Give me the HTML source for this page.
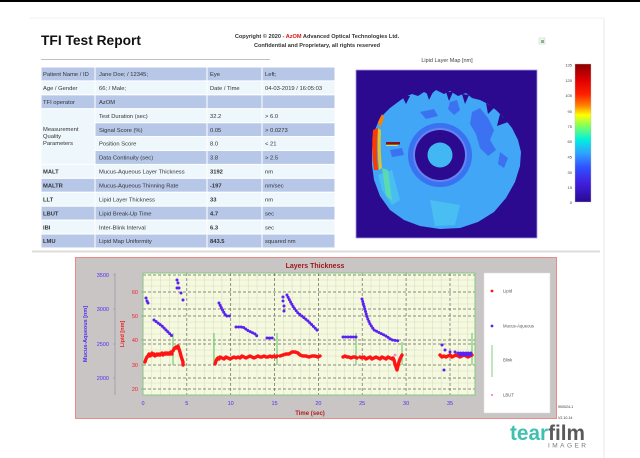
<!DOCTYPE html>
<html><head><meta charset="utf-8"><style>
html,body{margin:0;padding:0;background:#fff;width:640px;height:458px;overflow:hidden}
svg{display:block}
text{font-family:"Liberation Sans",Arial,sans-serif}
</style></head><body>
<svg width="640" height="458" viewBox="0 0 640 458" xmlns="http://www.w3.org/2000/svg">
<defs>
<linearGradient id="jet" x1="0" y1="0" x2="0" y2="1">
<stop offset="0" stop-color="#8b0000"/>
<stop offset="0.12" stop-color="#e00000"/>
<stop offset="0.22" stop-color="#ff2000"/>
<stop offset="0.30" stop-color="#ff8000"/>
<stop offset="0.37" stop-color="#ffff00"/>
<stop offset="0.45" stop-color="#80ff60"/>
<stop offset="0.55" stop-color="#00f0e0"/>
<stop offset="0.65" stop-color="#30a0ff"/>
<stop offset="0.75" stop-color="#3050ff"/>
<stop offset="0.86" stop-color="#4020e0"/>
<stop offset="1" stop-color="#2a0890"/>
</linearGradient>
</defs>
<rect x="0" y="0" width="640" height="2" fill="#000"/>
<line x1="604" y1="18" x2="604" y2="458" stroke="#e8e8e8" stroke-width="1"/>
<line x1="30" y1="18" x2="604" y2="18" stroke="#f2f2f2" stroke-width="1"/>

<!-- header -->
<text x="41" y="45" font-size="13.5" font-weight="bold" fill="#111" textLength="100" lengthAdjust="spacingAndGlyphs">TFI Test Report</text>
<text x="317" y="38" font-size="5.6" font-weight="bold" fill="#333" text-anchor="middle">Copyright © 2020 - <tspan fill="#e01010">AzOM</tspan> Advanced Optical Technologies Ltd.</text>
<text x="317" y="47" font-size="5.6" font-weight="bold" fill="#333" text-anchor="middle">Confidential and Proprietary, all rights reserved</text>
<rect x="539" y="38" width="6" height="6" fill="#f4f4f4" stroke="#ccc" stroke-width="0.5"/>
<rect x="541" y="40" width="3" height="3" fill="#7cbf7c"/>
<line x1="41" y1="59.5" x2="270" y2="59.5" stroke="#c0c0c0" stroke-width="1"/>

<!-- table -->
<g stroke="#fff" stroke-width="1">
<rect x="41" y="67" width="294" height="13.92" fill="#b7c7e8"/>
<rect x="41" y="80.92" width="294" height="13.92" fill="#eef7fc"/>
<rect x="41" y="94.84" width="294" height="13.92" fill="#b7c7e8"/>
<rect x="41" y="108.76" width="294" height="55.68" fill="#eef7fc"/>
<rect x="95" y="122.68" width="240" height="13.92" fill="#b7c7e8"/>
<rect x="95" y="150.52" width="240" height="13.92" fill="#b7c7e8"/>
<rect x="41" y="164.44" width="294" height="13.92" fill="#eef7fc"/>
<rect x="41" y="178.36" width="294" height="13.92" fill="#b7c7e8"/>
<rect x="41" y="192.28" width="294" height="13.92" fill="#eef7fc"/>
<rect x="41" y="206.2" width="294" height="13.92" fill="#b7c7e8"/>
<rect x="41" y="220.12" width="294" height="13.92" fill="#eef7fc"/>
<rect x="41" y="234.04" width="294" height="13.92" fill="#b7c7e8"/>
</g>
<g stroke="#fff" stroke-width="1">
<line x1="95" y1="67" x2="95" y2="248"/>
<line x1="207" y1="67" x2="207" y2="248"/>
<line x1="262" y1="67" x2="262" y2="248"/>
<line x1="95" y1="122.68" x2="335" y2="122.68"/>
<line x1="95" y1="136.6" x2="335" y2="136.6"/>
<line x1="95" y1="150.52" x2="335" y2="150.52"/>
</g>
<g font-size="5.8" fill="#333">
<text x="43" y="76.2">Patient Name / ID</text><text x="99" y="76.2">Jane Doe; / 12345;</text><text x="210" y="76.2">Eye</text><text x="265" y="76.2">Left;</text>
<text x="43" y="90.1">Age / Gender</text><text x="99" y="90.1">66; / Male;</text><text x="210" y="90.1">Date / Time</text><text x="265" y="90.1">04-03-2019 / 16:05:03</text>
<text x="43" y="104">TFI operator</text><text x="99" y="104">AzOM</text>
<text x="43" y="131">Measurement</text><text x="43" y="138">Quality</text><text x="43" y="145">Parameters</text>
<text x="99" y="117.9">Test Duration (sec)</text><text x="210" y="117.9">32.2</text><text x="265" y="117.9">&gt; 6.0</text>
<text x="99" y="131.8">Signal Score (%)</text><text x="210" y="131.8">0.05</text><text x="265" y="131.8">&gt; 0.0273</text>
<text x="99" y="145.7">Position Score</text><text x="210" y="145.7">8.0</text><text x="265" y="145.7">&lt; 21</text>
<text x="99" y="159.7">Data Continuity (sec)</text><text x="210" y="159.7">3.8</text><text x="265" y="159.7">&gt; 2.5</text>
<text x="43" y="173.6" font-weight="bold">MALT</text><text x="99" y="173.6">Mucus-Aqueous Layer Thickness</text><text x="210" y="173.6" font-weight="bold">3192</text><text x="265" y="173.6">nm</text>
<text x="43" y="187.5" font-weight="bold">MALTR</text><text x="99" y="187.5">Mucus-Aqueous Thinning Rate</text><text x="210" y="187.5" font-weight="bold">-197</text><text x="265" y="187.5">nm/sec</text>
<text x="43" y="201.4" font-weight="bold">LLT</text><text x="99" y="201.4">Lipid Layer Thickness</text><text x="210" y="201.4" font-weight="bold">33</text><text x="265" y="201.4">nm</text>
<text x="43" y="215.4" font-weight="bold">LBUT</text><text x="99" y="215.4">Lipid Break-Up Time</text><text x="210" y="215.4" font-weight="bold">4.7</text><text x="265" y="215.4">sec</text>
<text x="43" y="229.3" font-weight="bold">IBI</text><text x="99" y="229.3">Inter-Blink Interval</text><text x="210" y="229.3" font-weight="bold">6.3</text><text x="265" y="229.3">sec</text>
<text x="43" y="243.2" font-weight="bold">LMU</text><text x="99" y="243.2">Lipid Map Uniformity</text><text x="210" y="243.2" font-weight="bold">843.5</text><text x="265" y="243.2">squared nm</text>
</g>

<!-- map -->
<text x="447" y="62" font-size="5.5" fill="#444" text-anchor="middle">Lipid Layer Map [nm]</text>
<rect x="356" y="70" width="181" height="168" fill="#2b0a8f" stroke="#a898e8" stroke-width="0.8"/>
<polygon fill="#40a6f5" points="372,150 374,132 380,118 390,108 398,102 405,97 412,94 418,96 424,92 430,95 436,90 444,94 450,91 458,96 466,93 472,98 480,100 488,104 496,110 504,118 512,128 518,140 521,152 520,166 515,182 506,198 494,212 478,222 460,228 440,229 420,226 404,220 390,210 380,196 374,180 372,165"/>
<g fill="#2b0a8f">
<polygon points="402,96 406,104 410,96"/>
<polygon points="426,91 429,100 433,92"/>
<polygon points="446,92 449,101 453,92"/>
<polygon points="462,94 465,104 469,95"/>
<polygon points="486,103 488,114 494,108"/>
<polygon points="500,114 497,126 508,122"/>
</g>
<g fill="#3c68f2" opacity="0.85">
<polygon points="472,112 480,108 488,118 494,130 490,140 496,150 488,156 480,148 476,134 470,124"/>
<polygon points="450,102 457,100 460,110 454,115 448,109"/>
<polygon points="500,152 508,158 504,168 498,164"/>
<polygon points="390,150 402,148 404,155 392,157"/>
<polygon points="420,112 434,109 438,116 426,119"/>
</g>
<g fill="#4cc4f2" opacity="0.8">
<polygon points="378,175 392,170 400,200 392,205 382,190"/>
<polygon points="430,200 460,205 455,225 435,226"/>
</g>
<path d="M373,130 Q371,150 374,170 L378,170 Q376,150 378,128 Z" fill="#ff3a00"/>
<path d="M378,122 L382,114 L384,118 L380,128 Z" fill="#ff8000"/>
<path d="M378,128 Q377,150 379,170 L382,168 Q380,150 381,130 Z" fill="#ffd000" opacity="0.8"/>
<path d="M382,168 L386,196 L392,200 L388,170 Z" fill="#60e0a0" opacity="0.8"/>
<rect x="386" y="142" width="14" height="2.5" fill="#8b1010"/>
<rect x="386" y="145" width="12" height="1" fill="#e0e040"/>
<circle cx="440" cy="155" r="32" fill="#3a72f2"/>
<circle cx="440" cy="155" r="27" fill="#6484f0"/>
<circle cx="440" cy="155" r="25" fill="#2b0a8f"/>
<circle cx="440" cy="155" r="12.5" fill="#42b8f2"/>
<rect x="575" y="64" width="16" height="138" fill="url(#jet)" stroke="#bbb" stroke-width="0.4"/>
<g font-size="4" fill="#444" text-anchor="end">
<text x="572" y="66.5">135</text><text x="572" y="82">120</text><text x="572" y="97">105</text><text x="572" y="113">90</text><text x="572" y="128">75</text><text x="572" y="143">60</text><text x="572" y="158.5">45</text><text x="572" y="174">30</text><text x="572" y="189">15</text><text x="572" y="204">0</text>
</g>

<line x1="32" y1="251.5" x2="600" y2="251.5" stroke="#dcdcdc" stroke-width="2"/>

<!-- chart -->
<rect x="75.5" y="257.5" width="481" height="161" fill="#c9c5c5" stroke="#e88a8a" stroke-width="1"/>
<text x="315" y="268" font-size="7" font-weight="bold" fill="#a01818" text-anchor="middle">Layers Thickness</text>
<rect x="143" y="273" width="332" height="122" fill="#f5fadf"/>
<g stroke="#d6d8c4" stroke-width="0.5">
<line x1="151.8" y1="273" x2="151.8" y2="395"/><line x1="160.5" y1="273" x2="160.5" y2="395"/><line x1="169.3" y1="273" x2="169.3" y2="395"/><line x1="178.1" y1="273" x2="178.1" y2="395"/>
<line x1="195.6" y1="273" x2="195.6" y2="395"/><line x1="204.4" y1="273" x2="204.4" y2="395"/><line x1="213.2" y1="273" x2="213.2" y2="395"/><line x1="221.9" y1="273" x2="221.9" y2="395"/>
<line x1="239.5" y1="273" x2="239.5" y2="395"/><line x1="248.2" y1="273" x2="248.2" y2="395"/><line x1="257" y1="273" x2="257" y2="395"/><line x1="265.8" y1="273" x2="265.8" y2="395"/>
<line x1="283.3" y1="273" x2="283.3" y2="395"/><line x1="292.1" y1="273" x2="292.1" y2="395"/><line x1="300.9" y1="273" x2="300.9" y2="395"/><line x1="309.6" y1="273" x2="309.6" y2="395"/>
<line x1="327.2" y1="273" x2="327.2" y2="395"/><line x1="335.9" y1="273" x2="335.9" y2="395"/><line x1="344.7" y1="273" x2="344.7" y2="395"/><line x1="353.5" y1="273" x2="353.5" y2="395"/>
<line x1="371" y1="273" x2="371" y2="395"/><line x1="379.8" y1="273" x2="379.8" y2="395"/><line x1="388.5" y1="273" x2="388.5" y2="395"/><line x1="397.3" y1="273" x2="397.3" y2="395"/>
<line x1="414.8" y1="273" x2="414.8" y2="395"/><line x1="423.6" y1="273" x2="423.6" y2="395"/><line x1="432.4" y1="273" x2="432.4" y2="395"/><line x1="441.2" y1="273" x2="441.2" y2="395"/>
<line x1="458.7" y1="273" x2="458.7" y2="395"/><line x1="467.5" y1="273" x2="467.5" y2="395"/>
<line x1="143" y1="280" x2="475" y2="280"/><line x1="143" y1="286" x2="475" y2="286"/><line x1="143" y1="298" x2="475" y2="298"/><line x1="143" y1="304" x2="475" y2="304"/>
<line x1="143" y1="322" x2="475" y2="322"/><line x1="143" y1="328" x2="475" y2="328"/><line x1="143" y1="334" x2="475" y2="334"/><line x1="143" y1="350" x2="475" y2="350"/>
<line x1="143" y1="356" x2="475" y2="356"/><line x1="143" y1="371" x2="475" y2="371"/><line x1="143" y1="383" x2="475" y2="383"/>
</g>
<g stroke="#666" stroke-width="0.7" stroke-dasharray="3 2">
<line x1="186.8" y1="273" x2="186.8" y2="395"/><line x1="230.7" y1="273" x2="230.7" y2="395"/><line x1="274.5" y1="273" x2="274.5" y2="395"/><line x1="318.4" y1="273" x2="318.4" y2="395"/>
<line x1="362.2" y1="273" x2="362.2" y2="395"/><line x1="406.1" y1="273" x2="406.1" y2="395"/><line x1="450" y1="273" x2="450" y2="395"/>
<line x1="143" y1="292" x2="475" y2="292"/><line x1="143" y1="316" x2="475" y2="316"/><line x1="143" y1="340" x2="475" y2="340"/><line x1="143" y1="365" x2="475" y2="365"/><line x1="143" y1="389" x2="475" y2="389"/>
<line x1="143" y1="275" x2="475" y2="275"/><line x1="143" y1="309" x2="475" y2="309"/><line x1="143" y1="344" x2="475" y2="344"/><line x1="143" y1="378" x2="475" y2="378"/>
</g>
<rect x="143" y="273" width="332" height="122" fill="none" stroke="#86c886" stroke-width="1"/>
<line x1="115" y1="273" x2="115" y2="395" stroke="#8a8a9a" stroke-width="0.6"/>
<g stroke="#8a8a9a" stroke-width="0.5">
<line x1="113" y1="275" x2="115" y2="275"/><line x1="113" y1="309" x2="115" y2="309"/><line x1="113" y1="344" x2="115" y2="344"/><line x1="113" y1="378" x2="115" y2="378"/>
<line x1="141" y1="292" x2="143" y2="292"/><line x1="141" y1="316" x2="143" y2="316"/><line x1="141" y1="340" x2="143" y2="340"/><line x1="141" y1="365" x2="143" y2="365"/><line x1="141" y1="389" x2="143" y2="389"/>
</g>
<g font-size="5.5" fill="#4a30f0" text-anchor="end">
<text x="109" y="277">3500</text><text x="109" y="311">3000</text><text x="109" y="346">2500</text><text x="109" y="380">2000</text>
</g>
<g font-size="5.5" fill="#f02020" text-anchor="end">
<text x="138" y="294">60</text><text x="138" y="318">50</text><text x="138" y="342">40</text><text x="138" y="367">30</text><text x="138" y="391">20</text>
</g>
<g font-size="5.5" fill="#4a30f0" text-anchor="middle">
<text x="143" y="405">0</text><text x="186.8" y="405">5</text><text x="230.7" y="405">10</text><text x="274.5" y="405">15</text><text x="318.4" y="405">20</text><text x="362.2" y="405">25</text><text x="406.1" y="405">30</text><text x="450" y="405">35</text>
</g>
<text x="310" y="415" font-size="6" font-weight="bold" fill="#b02020" text-anchor="middle">Time (sec)</text>
<text transform="translate(87,334) rotate(-90)" font-size="5.5" font-weight="bold" fill="#4a30f0" text-anchor="middle">Mucus-Aqueous [nm]</text>
<text transform="translate(124,334) rotate(-90)" font-size="5.5" font-weight="bold" fill="#f02020" text-anchor="middle">Lipid [nm]</text>

<!-- blinks -->
<g stroke="#80d080" stroke-width="1.3">
<line x1="173" y1="333" x2="173" y2="365"/><line x1="214" y1="333" x2="214" y2="365"/><line x1="277" y1="333" x2="277" y2="365"/>
<line x1="356" y1="333" x2="356" y2="365"/><line x1="402" y1="342" x2="402" y2="365"/><line x1="472" y1="333" x2="472" y2="365"/>
</g>

<!-- lipid red -->
<g fill="none" stroke="#ff1414" stroke-width="3.4" stroke-linecap="round" stroke-linejoin="round">
<polyline points="145,362 146,359 147,357 148,356 149,354 150,356 151,355 152,353 153,355 154,354 155,356 156,355 157,354 158,355 159,354 160,355 161,354 162,353 163,355 164,354 165,353 166,354 167,353 168,354 169,353 170,354 171,352 172,354"/>
<polyline points="173,351 174,349 175,348 176,347 177,348 178,346 179,349 180,352 181,356 182,359 183,362 183,365"/>
<polyline points="215,364 216,361 217,359 218,358 219,359 220,357 222,358 224,359 226,357 228,358 230,359 232,358 234,357 236,358 238,357 240,358 242,356 244,357 246,358 248,357 250,356 252,357 254,358 256,357 258,356 260,357 262,357 264,356 266,357 268,357 270,356 272,357 274,356 276,357 277,356"/>
<polyline points="280,356 283,355 286,354 289,354 292,352 295,352 298,353 300,355 303,356 306,356 309,357 312,356 315,356 318,357 320,356"/>
<polyline points="343,357 345,356 347,357 349,357 351,358 353,357 355,357 357,358"/>
<polyline points="360,357 362,358 364,357 366,359 368,358 370,357 372,359 374,358 376,357 378,358 380,359 382,357 384,358 386,359 388,357 390,358 392,359 393,358 394,360 395,364 396,367 397,370 398,366 399,362 400,359 401,357 402,355"/>
<polyline points="440,355 442,357 444,356 446,357 448,356 450,355 452,357 454,356 456,355 458,356 460,357 462,356 464,355 466,356 468,357 470,356 472,355"/>
</g>
<circle cx="395" cy="355" r="1.4" fill="#ff80c8"/>

<!-- mucus blue -->
<g fill="none" stroke="#5a22f0" stroke-width="3" stroke-linecap="round" stroke-dasharray="0 2.6">
<polyline points="154,320 158,323 162,326 166,330 170,334 172,336"/>
<polyline points="219,303 221,307 223,311 226,316 231,316"/>
<polyline points="236,327 243,327 247,330 251,332 255,334 257,336"/>
<polyline points="267,338 273,338"/>
<polyline points="287,295 290,301 294,308 298,313 303,317 308,321 313,326 317,330 318,332"/>
<polyline points="343,337 357,337"/>
<polyline points="362,299 364,306 367,317 370,324 374,330 380,333 386,336 392,340 400,341"/>
<polyline points="458,353 472,353"/>
<polyline points="460,355 472,355"/>
</g>
<g fill="#5a22f0">
<circle cx="146" cy="298" r="1.5"/><circle cx="147" cy="301" r="1.5"/><circle cx="148" cy="303" r="1.5"/>
<circle cx="177" cy="280" r="1.5"/><circle cx="178" cy="283" r="1.5"/><circle cx="177" cy="288" r="1.5"/><circle cx="179" cy="288" r="1.5"/><circle cx="181" cy="293" r="1.5"/><circle cx="183" cy="300" r="1.5"/>
<circle cx="283" cy="297" r="1.5"/><circle cx="283" cy="301" r="1.5"/><circle cx="284" cy="306" r="1.5"/><circle cx="284" cy="311" r="1.5"/>
<circle cx="442" cy="345" r="1.5"/><circle cx="445" cy="350" r="1.5"/><circle cx="444" cy="370" r="1.5"/><circle cx="450" cy="352" r="1.5"/><circle cx="455" cy="352" r="1.5"/>
</g>

<!-- legend -->
<rect x="484" y="273" width="66" height="140" fill="#fff" stroke="#ddd" stroke-width="0.5"/>
<circle cx="492" cy="291" r="1.4" fill="#ff1414"/>
<circle cx="492" cy="326" r="1.4" fill="#5a22f0"/>
<line x1="492" y1="345" x2="492" y2="377" stroke="#80d080" stroke-width="1"/>
<circle cx="492" cy="395" r="1.1" fill="#ff80c8"/>
<g font-size="4.3" fill="#555">
<text x="503" y="292.5">Lipid</text>
<text x="503" y="327.5">Mucus-Aqueous</text>
<text x="503" y="361.5">Blink</text>
<text x="503" y="396.5">LBUT</text>
</g>

<!-- footer -->
<g font-size="3.6" fill="#333">
<text x="558" y="408">900024-1</text>
<text x="558" y="419">V2.10.14</text>
</g>
<text x="510" y="440" font-size="21" font-weight="bold" textLength="75" lengthAdjust="spacingAndGlyphs"><tspan fill="#3fc0b0">tear</tspan><tspan fill="#5a5a5a">film</tspan></text>
<text x="548" y="447.5" font-size="6.5" fill="#7a7a7a" textLength="38" lengthAdjust="spacing">IMAGER</text>
</svg>
</body></html>
